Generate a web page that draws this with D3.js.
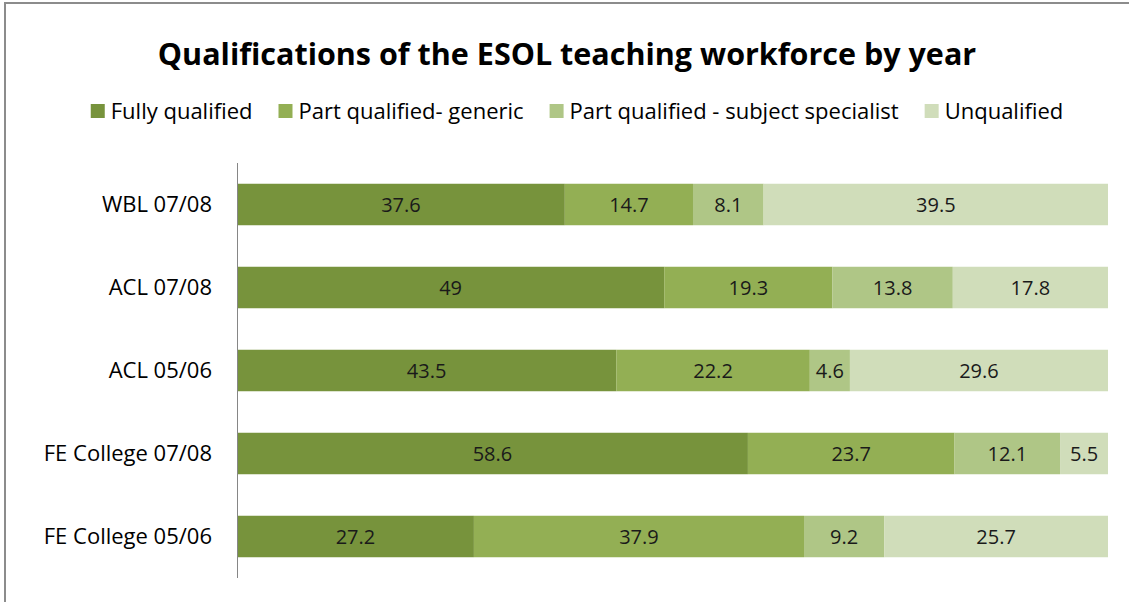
<!DOCTYPE html>
<html>
<head>
<meta charset="utf-8">
<script src="https://cdn.jsdelivr.net/npm/d3@7"></script>
<style>
  body { margin: 0; background: #fff; }
  text { font-family: "Open Sans", Lato, sans-serif; }
</style>
</head>
<body>
<div id="chart"></div>
<script>
var categories = ["WBL 07/08", "ACL 07/08", "ACL 05/06", "FE College 07/08", "FE College 05/06"];
var seriesNames = ["Fully qualified", "Part qualified- generic", "Part qualified - subject specialist", "Unqualified"];
var fullyQualified = [37.6, 49, 43.5, 58.6, 27.2];
var partGeneric = [14.7, 19.3, 22.2, 23.7, 37.9];
var partSpecialist = [8.1, 13.8, 4.6, 12.1, 9.2];
var unqualified = [39.5, 17.8, 29.6, 5.5, 25.7];
var colors = ["#77933c", "#93af54", "#afc686", "#d0ddba"];

var width = 1129, height = 602;
var svg = d3.select("#chart").append("svg")
  .attr("width", width)
  .attr("height", height);

// frame
svg.append("rect")
  .attr("x", 5).attr("y", 3)
  .attr("width", 1140).attr("height", 640)
  .attr("fill", "none")
  .attr("stroke", "#8c8c8c")
  .attr("stroke-width", 2);

svg.append("text")
  .attr("x", 567).attr("y", 65)
  .attr("text-anchor", "middle")
  .attr("font-size", "30.5px")
  .attr("font-weight", "bold")
  .attr("fill", "#000")
  .text("Qualifications of the ESOL teaching workforce by year");

var rows = categories.map(function(c, i) {
  return {name: c, values: [fullyQualified[i], partGeneric[i], partSpecialist[i], unqualified[i]]};
});

var x = d3.scaleLinear().domain([0, 1]).range([237, 1108]);
var y = d3.scaleBand().domain(categories).range([163, 578]).paddingInner(0.5).paddingOuter(0.25);

var g = svg.selectAll(".row")
  .data(rows)
  .enter().append("g")
  .attr("class", "row")
  .attr("transform", function(d) { return "translate(0," + y(d.name) + ")"; });

g.each(function(d) {
  var total = d3.sum(d.values);
  var acc = 0;
  var segs = d.values.map(function(v, k) {
    var s = {v: v, k: k, x0: acc / total, x1: (acc + v) / total};
    acc += v;
    return s;
  });
  var sel = d3.select(this);
  sel.selectAll("rect")
    .data(segs)
    .enter().append("rect")
    .attr("x", function(s) { return x(s.x0); })
    .attr("width", function(s) { return x(s.x1) - x(s.x0); })
    .attr("height", y.bandwidth())
    .attr("fill", function(s) { return colors[s.k]; });
  sel.selectAll("text")
    .data(segs)
    .enter().append("text")
    .attr("x", function(s) { return (x(s.x0) + x(s.x1)) / 2; })
    .attr("y", y.bandwidth() / 2)
    .attr("dy", "0.36em")
    .attr("text-anchor", "middle")
    .attr("font-size", "20px")
    .attr("fill", "#1a1a1a")
    .text(function(s) { return s.v; });
});

// category axis
svg.append("line")
  .attr("x1", 237.5).attr("x2", 237.5)
  .attr("y1", 163).attr("y2", 578)
  .attr("stroke", "#868686");

svg.selectAll(".cat")
  .data(categories)
  .enter().append("text")
  .attr("class", "cat")
  .attr("x", 212)
  .attr("y", function(d) { return y(d) + y.bandwidth() / 2; })
  .attr("dy", "0.36em")
  .attr("text-anchor", "end")
  .attr("font-size", "22px")
  .attr("fill", "#000")
  .text(function(d) { return d; });

// legend
var legend = svg.append("g");
var lx = 0;
seriesNames.forEach(function(n, i) {
  var item = legend.append("g").attr("transform", "translate(" + lx + ",0)");
  item.append("rect")
    .attr("x", 0).attr("y", -7)
    .attr("width", 14).attr("height", 14)
    .attr("fill", colors[i]);
  var t = item.append("text")
    .attr("x", 20).attr("y", 0)
    .attr("dy", "0.36em")
    .attr("font-size", "22px")
    .attr("fill", "#000")
    .text(n);
  lx += 20 + t.node().getComputedTextLength() + 26;
});
var legendW = lx - 26;
legend.attr("transform", "translate(" + (577 - legendW / 2) + ",111)");
</script>
</body>
</html>
